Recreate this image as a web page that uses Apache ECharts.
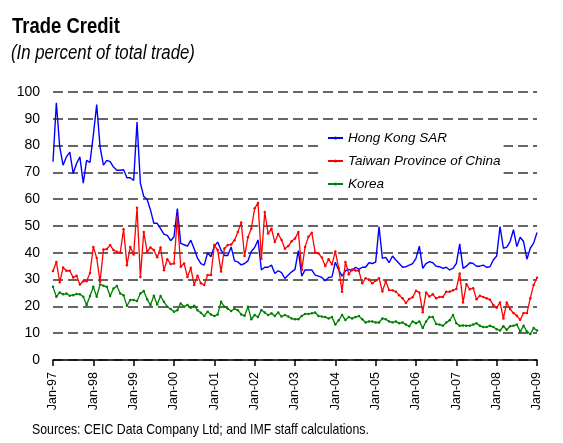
<!DOCTYPE html>
<html>
<head>
<meta charset="utf-8">
<title>Trade Credit</title>
<script src="https://cdn.jsdelivr.net/npm/echarts@6/dist/echarts.min.js"></script>
<style>
  html, body { margin: 0; padding: 0; background: #fff; }
  #main { width: 563px; height: 443px; }
</style>
</head>
<body>
<div id="main"></div>
<script>
  // monthly, Jan-97 .. Jan-09
  var hongKong = [
    74, 96, 79.5, 72.7, 75.8, 77.6, 69.6, 73.3, 75.8, 66, 74.5, 73.7,
    84, 95.3, 79.5, 72.7, 74.5, 74, 72, 70.8, 70.8, 71, 68, 68,
    67, 88.8, 66, 61, 60, 56, 51, 51, 49, 47, 46.5, 44.5,
    46, 56.5, 43.5, 43, 42.5, 44.7, 41.5, 38, 36, 35.4, 40, 38.5,
    42.5, 44, 41, 39, 39, 42.2, 37, 36.6, 35.5, 36, 37, 40.5,
    42, 44.8, 33.6, 34.6, 34.6, 35.4, 32.3, 33.3, 32.6, 30.4, 31.7, 32.9,
    33.8, 40.8, 31.3, 33.6, 33.6, 33.6, 31.7, 31.3, 30.8, 29.6, 30.8, 31,
    36.5, 33.6, 31.3, 33.3, 33.8, 33.3, 34.6, 33.8, 34.6, 34.6, 36.3, 36,
    36.5, 49.8, 37.9, 38.3, 36.3, 38.8, 37.3, 36, 34.6, 34.8, 35.4, 36,
    37.9, 42.5, 34.2, 36, 36.7, 36.3, 35, 34.8, 34.2, 34.6, 33.6, 34.2,
    36, 43.3, 34.2, 35, 36.3, 36, 35, 35, 35.4, 34.6, 34.8, 37.3,
    38.8, 49.8, 41.7, 42.1, 44.2, 48.6, 42.3, 45.8, 44.2, 37.6, 41.7, 43.6,
    47.6
  ];
  var taiwan = [
    33.2, 36.6, 29, 34.5, 33.3, 33.3, 30.8, 31.4, 28.2, 29.4, 29.4, 32.5,
    42.2, 38.1, 29.2, 41.2, 41.4, 42.9, 41, 40.4, 40, 48.8, 35.4, 42.2,
    39.4, 56.8, 31, 47.8, 40.4, 42, 41, 38.3, 42, 33.5, 37.6, 35.8,
    36, 53.4, 34.8, 36, 31, 34.4, 28, 31.4, 28.6, 28, 31.7, 31.7,
    42.9, 41, 33, 41.6, 42.9, 43.1, 44.7, 47.8, 51.3, 38.8, 45.8, 49.1,
    56.6, 58.6, 37.8, 55.2, 47.2, 49, 44, 47, 44.8, 41.5, 42.5, 44.3,
    45.3, 47.8, 33.6, 42.2, 46, 47.5, 40.1, 39.8, 38.2, 35.1, 37.6, 35.7,
    40.5, 34.2, 25.5, 36.6, 32, 33.8, 33.4, 33.3, 28.6, 30.5, 30, 28.6,
    29.6, 30.5, 25.6, 29.4, 26.1, 26, 25.5, 24.2, 23, 21.3, 22.8, 23.4,
    25.8, 25.2, 17.8, 25.2, 23.7, 24.5, 23, 23.5, 23.5, 25.5, 25.5, 26,
    26.5, 32.3, 21.5, 28.3, 26.4, 26.8, 22.7, 24, 23.5, 23, 22.5, 20.5,
    19.5, 21.5, 15.5, 21.5, 19, 17.5, 16.5, 15, 17.5, 17.5, 23, 28,
    30.7
  ];
  var korea = [
    27.3, 23.6, 25.2, 24.5, 24.8, 24, 24.2, 24.6, 24.5, 23.6, 20.5, 23.9,
    27.3, 23.6, 28.2, 27.7, 27.3, 23.9, 26.7, 27.6, 24.8, 24.2, 20.2, 22.4,
    22.4, 22, 24.8, 25.7, 22.7, 20.5, 24, 20.7, 23.9, 21.7, 19.9, 19,
    18, 18.6, 21.1, 19.9, 20.5, 19.5, 20.2, 18.6, 17.6, 16.4, 18, 17,
    16.4, 17, 21.7, 19.9, 19.1, 18.3, 19.1, 18.6, 17, 16.5, 19.9, 15.2,
    16.8, 16, 18.7, 17.7, 16.8, 17.4, 16.4, 17.7, 16.2, 16.8, 16.2, 15.5,
    15.2, 15.2, 16.4, 17.2, 17.2, 17.4, 17.7, 16.4, 16.2, 16, 15.5, 16,
    13.2, 14.8, 16.8, 14.9, 16, 15.5, 16, 16.4, 15.2, 14, 14.4, 14.4,
    14, 14, 15.5, 15.2, 14.4, 14, 14.4, 13.7, 14, 13.2, 12.6, 14.4,
    13.7, 14.4, 11.9, 14.4, 16, 16, 13.4, 13.2, 12.8, 14, 14.8, 16.8,
    13.7, 12.8, 12.9, 12.8, 12.8, 13.2, 13.7, 12.8, 12.3, 12.3, 12.8, 12.3,
    11.5, 11, 12.6, 11.3, 12.6, 12.8, 13.2, 10.6, 12.8, 10.6, 9.7, 11.9,
    11
  ];
  var seriesNames = ['Hong Kong SAR', 'Taiwan Province of China', 'Korea'];
  var monthNames = ['Jan', 'Feb', 'Mar', 'Apr', 'May', 'Jun', 'Jul', 'Aug', 'Sep', 'Oct', 'Nov', 'Dec'];
  var yearLabels = ['97', '98', '99', '00', '01', '02', '03', '04', '05', '06', '07', '08', '09'];

  var months = [];
  for (var y = 0; y < yearLabels.length; y++) {
    for (var m = 0; m < 12; m++) {
      months.push(monthNames[m] + '-' + yearLabels[y]);
    }
  }
  months = months.slice(0, hongKong.length);

  // no narrow face installed, so the heading texts are squeezed with scaleX
  var FONT = "'Liberation Sans', Arial, sans-serif";

  var chart = echarts.init(document.getElementById('main'));
  var option = {
    animation: false,
    backgroundColor: '#fff',
    graphic: [{
      type: 'text',
      x: 12,
      y: 16,
      scaleX: 0.84,
      style: {
        text: 'Trade Credit',
        fontFamily: FONT, fontSize: 22, fontWeight: 'bold',
        fill: '#000', verticalAlign: 'top'
      }
    }, {
      type: 'text',
      x: 11,
      y: 43,
      scaleX: 0.84,
      style: {
        text: '(In percent of total trade)',
        fontFamily: FONT, fontSize: 20, fontStyle: 'italic',
        fill: '#000', verticalAlign: 'top'
      }
    }, {
      type: 'text',
      x: 32,
      y: 422,
      scaleX: 0.82,
      style: {
        text: 'Sources: CEIC Data Company Ltd; and IMF staff calculations.',
        fontFamily: FONT, fontSize: 15,
        fill: '#000', verticalAlign: 'top'
      }
    }],
    legend: {
      data: seriesNames,
      orient: 'vertical',
      left: 318,
      top: 127,
      padding: [4, 3, 4, 9],
      itemGap: 9,
      itemWidth: 15,
      itemHeight: 4,
      backgroundColor: '#fff',
      textStyle: { fontFamily: FONT, fontSize: 13.5, fontStyle: 'italic', color: '#000' }
    },
    grid: {
      left: 53,
      right: 26,
      top: 92,
      bottom: 83
    },
    xAxis: {
      type: 'category',
      data: months,
      boundaryGap: false,
      axisLine: { lineStyle: { color: '#000', width: 1.5 } },
      axisTick: {
        interval: 11,
        length: 6,
        lineStyle: { color: '#000', width: 1.5 }
      },
      axisLabel: {
        interval: 11,
        rotate: 90,
        margin: 12,
        fontFamily: FONT,
        fontSize: 12.5,
        color: '#000'
      },
      splitLine: { show: false }
    },
    yAxis: {
      type: 'value',
      min: 0,
      max: 100,
      interval: 10,
      axisLine: { show: false },
      axisTick: { show: false },
      axisLabel: {
        margin: 13,
        fontFamily: FONT,
        fontSize: 14,
        color: '#000'
      },
      splitLine: {
        show: true,
        lineStyle: { color: '#666', width: 2, type: [10, 5] }
      }
    },
    series: [{
      name: seriesNames[0],
      type: 'line',
      data: hongKong,
      symbol: 'none',
      color: '#0000ff',
      lineStyle: { width: 1.4 }
    }, {
      name: seriesNames[1],
      type: 'line',
      data: taiwan,
      symbol: 'circle',
      symbolSize: 2.5,
      showAllSymbol: true,
      color: '#ff0000',
      lineStyle: { width: 1.3 }
    }, {
      name: seriesNames[2],
      type: 'line',
      data: korea,
      symbol: 'circle',
      symbolSize: 2.5,
      showAllSymbol: true,
      color: '#008000',
      lineStyle: { width: 1.3 }
    }]
  };
  chart.setOption(option);
</script>
</body>
</html>
